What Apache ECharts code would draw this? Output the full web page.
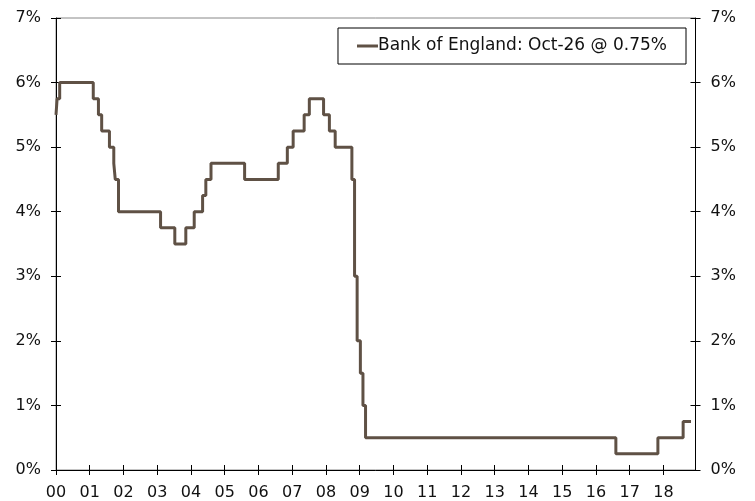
<!DOCTYPE html>
<html>
<head>
<meta charset="utf-8">
<style>
  html, body { margin: 0; padding: 0; background: #fff; }
  #chart { width: 755px; height: 501px; }
</style>
<script src="https://cdn.jsdelivr.net/npm/echarts@6/dist/echarts.min.js"></script>
</head>
<body>
<div id="chart"></div>
<script>
// Bank Rate change dates and levels (%)
const changeDates = [
  '2000-01-01','2000-01-13','2000-02-10','2001-02-08','2001-04-05','2001-05-10',
  '2001-08-02','2001-09-18','2001-10-04','2001-11-08','2003-02-06','2003-07-10',
  '2003-11-06','2004-02-05','2004-05-06','2004-06-10','2004-08-05','2005-08-04',
  '2006-08-03','2006-11-09','2007-01-11','2007-05-10','2007-07-05','2007-12-06',
  '2008-02-07','2008-04-10','2008-10-08','2008-11-06','2008-12-04','2009-01-08',
  '2009-02-05','2009-03-05','2016-08-04','2017-11-02','2018-08-02','2018-10-26'
];
const rates = [
  5.50, 5.75, 6.00, 5.75, 5.50, 5.25,
  5.00, 4.75, 4.50, 4.00, 3.75, 3.50,
  3.75, 4.00, 4.25, 4.50, 4.75, 4.50,
  4.75, 5.00, 5.25, 5.50, 5.75, 5.50,
  5.25, 5.00, 4.50, 3.00, 2.00, 1.50,
  1.00, 0.50, 0.25, 0.50, 0.75, 0.75
];
const xTickLabels = ['00','01','02','03','04','05','06','07','08','09','10','11','12','13','14','15','16','17','18'];
const yTickLabels = ['0%','1%','2%','3%','4%','5%','6%','7%'];
const seriesName = 'Bank of England: Oct-26 @ 0.75%';

const X_MIN = 2000, X_MAX = 2018.95;

function toYearFrac(s) {
  const [y, m, d] = s.split('-').map(Number);
  const start = Date.UTC(y, 0, 1), end = Date.UTC(y + 1, 0, 1);
  return y + (Date.UTC(y, m - 1, d) - start) / (end - start);
}
const seriesData = changeDates.map((d, i) => [toYearFrac(d), rates[i]]);
const xTickValues = xTickLabels.map((_, i) => X_MIN + i);

const FONT = 'DejaVu Sans';
const lineColor = '#5f5145';

function xAxisBase(extra) {
  return Object.assign({
    type: 'value', min: X_MIN, max: X_MAX, interval: 1,
    position: 'bottom',
    splitLine: { show: false },
  }, extra);
}
function yAxisBase(extra) {
  return Object.assign({
    type: 'value', min: 0, max: 7, interval: 1,
    splitLine: { show: false },
  }, extra);
}

const chart = echarts.init(document.getElementById('chart'), null, { renderer: 'canvas' });
chart.setOption({
  animation: false,
  backgroundColor: '#ffffff',
  grid: {
    left: 56, right: 59.5, top: 18, bottom: 31,
    show: true, borderColor: '#888888', borderWidth: 1, backgroundColor: 'transparent'
  },
  legend: {
    show: true,
    data: [seriesName],
    right: 69, top: 28,
    padding: [9, 19, 9, 19],
    borderColor: '#000', borderWidth: 1,
    itemWidth: 21, itemHeight: 3, itemGap: 0,
    icon: 'rect',
    textStyle: { fontFamily: FONT, fontSize: 17, color: '#111', lineHeight: 18, padding: [0, 0, 0, -5] }
  },
  xAxis: [
    xAxisBase({
      axisLine: { show: true, lineStyle: { color: '#000', width: 1 } },
      axisTick: { show: true, inside: false, length: 5, lineStyle: { color: '#000' }, customValues: xTickValues },
      axisLabel: {
        show: true, margin: 15, fontFamily: FONT, fontSize: 16, color: '#111',
        customValues: xTickValues,
        formatter: v => {
          const i = Math.round(v - X_MIN);
          return Math.abs(v - X_MIN - i) < 1e-6 && xTickLabels[i] !== undefined ? xTickLabels[i] : '';
        }
      }
    }),
    xAxisBase({
      axisLine: { show: false },
      axisTick: { show: true, inside: true, length: 5, lineStyle: { color: '#000' }, customValues: xTickValues },
      axisLabel: { show: false }
    })
  ],
  yAxis: [
    yAxisBase({
      position: 'left',
      axisLine: { show: true, lineStyle: { color: '#000', width: 1 } },
      axisTick: { show: true, inside: false, length: 5, lineStyle: { color: '#000' } },
      axisLabel: { show: true, margin: 15, fontFamily: FONT, fontSize: 16, color: '#111',
        formatter: v => yTickLabels[Math.round(v)] }
    }),
    yAxisBase({
      position: 'right',
      axisLine: { show: true, lineStyle: { color: '#000', width: 1 } },
      axisTick: { show: true, inside: false, length: 5, lineStyle: { color: '#000' } },
      axisLabel: { show: true, margin: 15, fontFamily: FONT, fontSize: 16, color: '#111',
        formatter: v => yTickLabels[Math.round(v)] }
    }),
    yAxisBase({
      position: 'left',
      axisLine: { show: false },
      axisTick: { show: true, inside: true, length: 5, lineStyle: { color: '#000' } },
      axisLabel: { show: false }
    }),
    yAxisBase({
      position: 'right',
      axisLine: { show: false },
      axisTick: { show: true, inside: true, length: 5, lineStyle: { color: '#000' } },
      axisLabel: { show: false }
    })
  ],
  series: [{
    name: seriesName,
    type: 'line',
    xAxisIndex: 0,
    yAxisIndex: 0,
    step: 'end',
    showSymbol: false,
    symbol: 'none',
    data: seriesData,
    lineStyle: { color: lineColor, width: 3 },
    itemStyle: { color: lineColor }
  }]
});
</script>
</body>
</html>
